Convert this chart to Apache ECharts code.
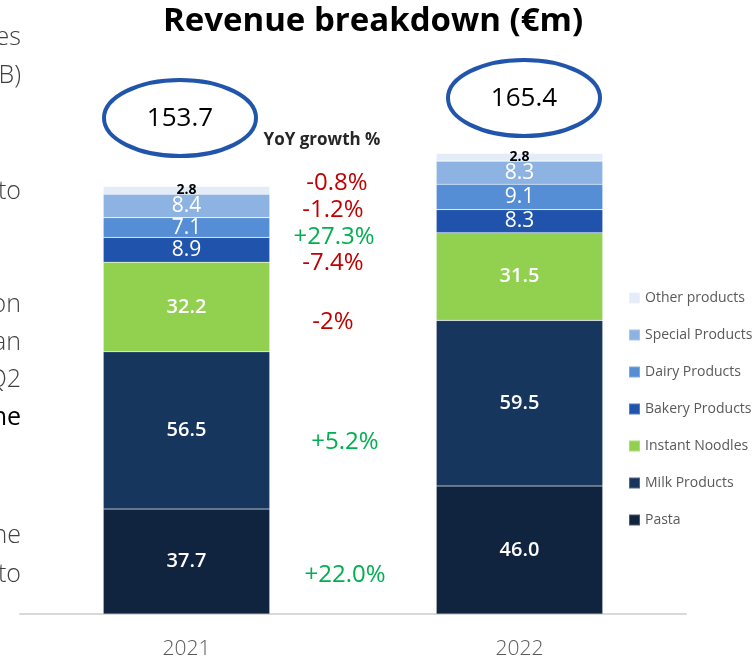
<!DOCTYPE html>
<html>
<head>
<meta charset="utf-8">
<script src="https://cdn.jsdelivr.net/npm/echarts@6/dist/echarts.min.js"></script>
<style>
html,body{margin:0;padding:0;background:#fff;}
#chart{width:756px;height:664px;}
</style>
</head>
<body>
<div id="chart"></div>
<script>
// ---- data ----
var years = ['2021', '2022'];
var seriesNames = ['Pasta', 'Milk Products', 'Instant Noodles', 'Bakery Products', 'Dairy Products', 'Special Products', 'Other products'];
var pasta = [37.7, 46.0];
var milk = [56.5, 59.5];
var noodles = [32.2, 31.5];
var bakery = [8.9, 8.3];
var dairy = [7.1, 9.1];
var special = [8.4, 8.3];
var other = [2.8, 2.8];
var totals = [153.7, 165.4];
var growthLabels = ['+22.0%', '+5.2%', '-2%', '-7.4%', '+27.3%', '-1.2%', '-0.8%'];
var sideFragments = ['es', 'B)', 'to', 'on', 'an', 'Q2', 'ne', 'ne', 'to'];

// ---- styles ----
var FONT = "'Open Sans', 'Noto Sans', sans-serif";
var colors = ['#11243F', '#17365D', '#92D050', '#2053AC', '#558ED5', '#8DB3E2', '#E4ECF7'];
var labelStyles = [
  {color: '#fff', fontWeight: 600, fontSize: 20},
  {color: '#fff', fontWeight: 600, fontSize: 20},
  {color: '#fff', fontWeight: 600, fontSize: 20},
  {color: '#fff', fontWeight: 400, fontSize: 21},
  {color: '#fff', fontWeight: 400, fontSize: 21},
  {color: '#fff', fontWeight: 400, fontSize: 21},
  {color: '#000', fontWeight: 700, fontSize: 14}
];
var allData = [pasta, milk, noodles, bakery, dairy, special, other];

var series = seriesNames.map(function (name, i) {
  return {
    name: name,
    type: 'bar',
    stack: 'rev',
    barWidth: '50%',
    data: allData[i],
    itemStyle: {color: colors[i], borderColor: 'rgba(255,255,255,0.25)', borderWidth: 0.6},
    label: {
      show: true,
      position: 'inside',
      fontFamily: FONT,
      color: labelStyles[i].color,
      fontWeight: labelStyles[i].fontWeight,
      fontSize: labelStyles[i].fontSize,
      formatter: function (p) { return p.value.toFixed(1); }
    },
    emphasis: {disabled: true}
  };
});

// growth label positions (layout)
var growthPos = [[345, 575], [345, 442], [333, 322], [333, 263], [334, 237], [333, 210], [337, 183]];
var fragY = [38, 76, 192, 305, 343, 380, 418, 536, 575];
var fragBold = [false, false, false, false, false, false, true, false, false];

var graphics = [];
// left slide fragments
sideFragments.forEach(function (t, i) {
  graphics.push({
    type: 'text', x: 21, y: fragY[i],
    style: {text: t, fontSize: 25, fontFamily: FONT, fill: fragBold[i] ? '#000' : '#404040',
      fontWeight: fragBold[i] ? 500 : 300, align: 'right', verticalAlign: 'middle'}
  });
});
// ellipses with totals
var ellipsePos = [[180, 118], [524, 98]];
totals.forEach(function (v, i) {
  graphics.push({
    type: 'ellipse',
    shape: {cx: ellipsePos[i][0], cy: ellipsePos[i][1], rx: 76, ry: 38},
    style: {fill: '#fff', stroke: '#2155AB', lineWidth: 4}
  });
  graphics.push({
    type: 'text', x: ellipsePos[i][0], y: ellipsePos[i][1] + 1,
    style: {text: v.toFixed(1), fontSize: 26, fontFamily: FONT, fill: '#000', align: 'center', verticalAlign: 'middle'}
  });
});
// YoY title
graphics.push({
  type: 'text', x: 322, y: 140,
  style: {text: 'YoY growth %', fontSize: 17, fontWeight: 700, fontFamily: FONT, fill: '#262626', align: 'center', verticalAlign: 'middle'}
});
growthLabels.forEach(function (t, i) {
  graphics.push({
    type: 'text', x: growthPos[i][0], y: growthPos[i][1],
    style: {text: t, fontSize: 24, fontWeight: 500, fontFamily: FONT, fill: t.charAt(0) === '+' ? '#00B050' : '#C00000',
      align: 'center', verticalAlign: 'middle'}
  });
});

var chart = echarts.init(document.getElementById('chart'), null, {renderer: 'canvas'});
chart.setOption({
  animation: false,
  backgroundColor: '#fff',
  title: {
    text: 'Revenue breakdown (€m)',
    left: 368, top: 0, textAlign: 'center',
    textStyle: {fontFamily: FONT, fontSize: 33, fontWeight: 700, color: '#000'}
  },
  legend: {
    orient: 'vertical',
    left: 623, top: 286,
    itemWidth: 11, itemHeight: 11, itemGap: 23,
    icon: 'rect',
    data: seriesNames.slice().reverse(),
    textStyle: {fontFamily: FONT, fontSize: 14, color: '#595959'},
    selectedMode: false
  },
  grid: {left: 20, right: 70, top: 113, bottom: 50, containLabel: false},
  xAxis: {
    type: 'category',
    data: years,
    axisLine: {lineStyle: {color: '#D9D9D9', width: 2}},
    axisTick: {show: false},
    axisLabel: {fontFamily: FONT, fontSize: 21, color: '#595959', margin: 25, fontWeight: 300}
  },
  yAxis: {type: 'value', min: 0, max: 180, show: false, splitLine: {show: false}},
  series: series,
  graphic: graphics
});
</script>
</body>
</html>
